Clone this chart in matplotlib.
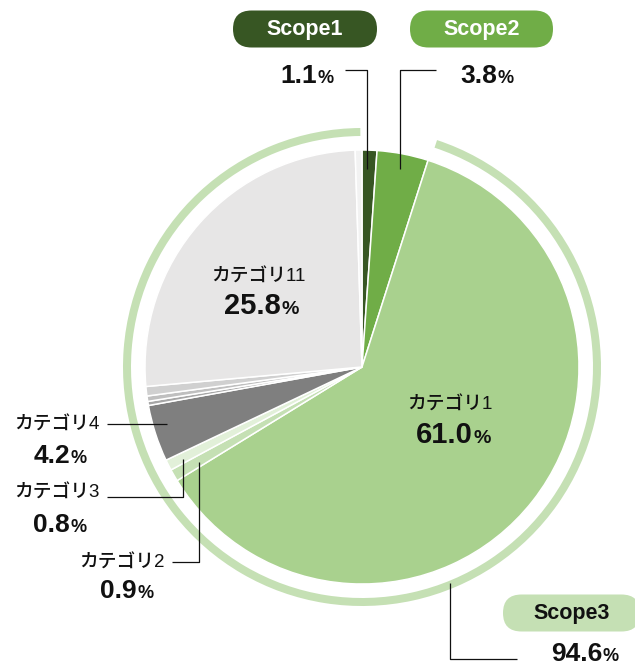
import matplotlib
matplotlib.use('Agg')
import matplotlib.pyplot as plt
from matplotlib.patches import Wedge, FancyBboxPatch

# slices clockwise from 12 o'clock
names  = ["Scope1", "Scope2", "カテゴリ1", "カテゴリ2", "カテゴリ3", "カテゴリ4",
          "その他a", "その他b", "その他c", "カテゴリ11", "その他d"]
values = [1.1, 3.8, 61.0, 0.9, 0.8, 4.2, 0.3, 0.4, 0.7, 25.8, 0.5]
scope_names  = ["Scope1", "Scope2", "Scope3"]
scope_values = [1.1, 3.8, 94.6]

colors = ['#375623', '#70ad47', '#a9d18e', '#c5e0b4', '#e2f0d9', '#7f7f7f',
          '#a6a6a6', '#bfbfbf', '#d0d0d0', '#e7e6e6', '#f2f2f2']

FONTS = ['Liberation Sans', 'Noto Sans CJK JP', 'DejaVu Sans']
plt.rcParams['font.family'] = FONTS

W, H = 635, 666
def Y(py):
    return H - py

fig = plt.figure(figsize=(W / 100, H / 100), dpi=100)
ax = fig.add_axes([0, 0, 1, 1])

cx, cy, R = 362, Y(367), 217
ax.pie(values, colors=colors, startangle=90, counterclock=False,
       radius=R, center=(cx, cy),
       wedgeprops=dict(edgecolor='white', linewidth=1.1))

# Scope3 ring (clockwise angles from top -> mpl angles)
a0, a1 = 18.3, 359.6
ax.add_patch(Wedge((cx, cy), 239, 90 - a1, 90 - a0, width=8,
                   facecolor='#c5e0b4', edgecolor='none'))

def pill(x0, x1, yc, h, fc, text, tc):
    ax.add_patch(FancyBboxPatch((x0, Y(yc) - h / 2), x1 - x0, h,
                                boxstyle=f"round,pad=0,rounding_size={h/2}",
                                facecolor=fc, edgecolor='none', clip_on=True))
    ax.text((x0 + x1) / 2, Y(yc), text, color=tc, fontsize=15.5,
            fontweight='bold', ha='center', va='center')

def pct(xr, base, v, big=19, small=13):
    ax.text(xr, Y(base), f"{v:.1f}", fontsize=big, fontweight='bold',
            ha='right', va='baseline', color='#111111')
    ax.text(xr + 0.5, Y(base), "%", fontsize=small, fontweight='bold',
            ha='left', va='baseline', color='#111111')

def lead(pts):
    xs = [p[0] for p in pts]
    ys = [Y(p[1]) for p in pts]
    ax.plot(xs, ys, color='#111111', lw=0.9, solid_capstyle='butt')

def cat(x, y, s, ha):
    ax.text(x, Y(y), s, fontsize=13.5, fontweight='medium', ha=ha,
            va='center', color='#111111')

# Scope pills
pill(233, 377, 29, 37, '#375623', scope_names[0], 'white')
pill(410, 553, 29, 37, '#70ad47', scope_names[1], 'white')
pill(503, 640, 613, 37, '#c5e0b4', scope_names[2], '#111111')

pct(317, 83, scope_values[0])
pct(497, 83, scope_values[1])
pct(602, 661, scope_values[2])

lead([(345, 70), (367, 70), (367, 169)])
lead([(436, 70), (400, 70), (400, 169)])
lead([(450, 583), (450, 659), (517, 659)])

# inside labels
cat(258, 277, names[9], 'center')
pct(281, 314, values[9], big=21, small=14)
cat(450, 405, names[2], 'center')
pct(473, 443, values[2], big=21, small=14)

# left labels
cat(100, 425, names[5], 'right')
pct(70, 463, values[5])
lead([(107, 424), (167, 424)])

cat(100, 493, names[4], 'right')
pct(70, 532, values[4])
lead([(107, 497), (183, 497), (183, 459)])

cat(165, 563, names[3], 'right')
pct(137, 598, values[3])
lead([(172, 562), (199, 562), (199, 462)])

ax.set_xlim(0, W)
ax.set_ylim(0, H)
ax.set_aspect('equal')
ax.axis('off')

fig.savefig('out.png', dpi=100, facecolor='white')
plt.close()
